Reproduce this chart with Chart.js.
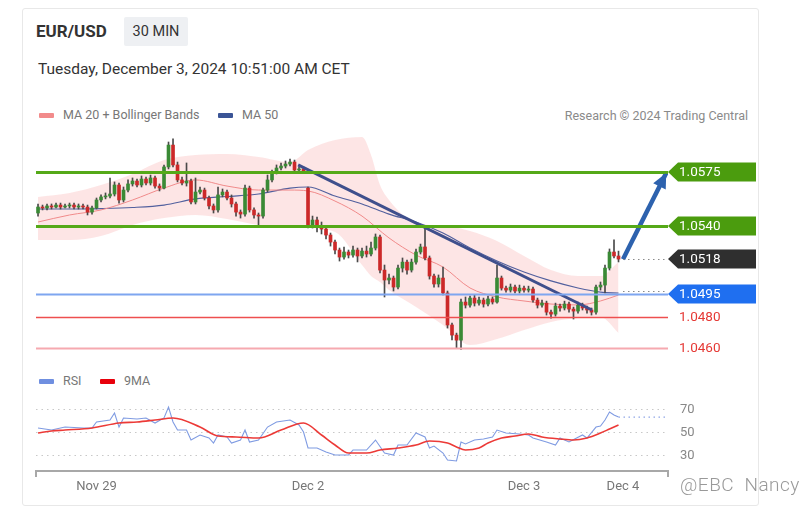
<!DOCTYPE html>
<html>
<head>
<meta charset="utf-8">
<script src="https://cdn.jsdelivr.net/npm/chart.js@4.4.1/dist/chart.umd.min.js"></script>
<style>
  body { margin: 0; width: 809px; height: 517px; position: relative; overflow: hidden; background: #fff; font-family: Roboto, "Liberation Sans", Arial, sans-serif; }
  .abs { position: absolute; white-space: nowrap; }
  .card { left: 22px; top: 8px; width: 735px; height: 496px; border: 1px solid #e8e8e8; border-radius: 3px; }
  .title { left: 36px; top: 21px; line-height: 20px; font-size: 17px; font-weight: bold; color: #333; }
  .badge { left: 124px; top: 17px; width: 64px; height: 29px; line-height: 29px; background: #eef0f3; color: #333; font-size: 14.5px; text-align: center; border-radius: 2px; }
  .date { left: 38px; top: 59px; line-height: 20px; font-size: 15.5px; color: #333; }
  .lg { line-height: 20px; font-size: 12.5px; color: #777; }
  .sw { width: 15px; height: 5px; border-radius: 1px; }
  .credit { right: 61px; top: 106px; line-height: 20px; font-size: 12.5px; color: #8a8a8a; }
  .mark { left: 680px; top: 473px; line-height: 24px; font-size: 19px; font-weight: 300; color: #999; letter-spacing: 0.5px; }
  canvas { position: absolute; left: 0; }
</style>
</head>
<body>
<div class="abs card"></div>
<div class="abs title">EUR/USD</div>
<div class="abs badge">30 MIN</div>
<div class="abs date">Tuesday, December 3, 2024 10:51:00 AM CET</div>

<div class="abs sw" style="left:39px;top:113px;background:#f28b8b"></div>
<div class="abs lg" style="left:63px;top:105px">MA 20 + Bollinger Bands</div>
<div class="abs sw" style="left:218px;top:113px;background:#3b5596"></div>
<div class="abs lg" style="left:242px;top:105px">MA 50</div>
<div class="abs credit">Research © 2024 Trading Central</div>

<div class="abs sw" style="left:39px;top:379px;background:#6f8fe0"></div>
<div class="abs lg" style="left:63px;top:371px">RSI</div>
<div class="abs sw" style="left:100px;top:379px;background:#e8000b"></div>
<div class="abs lg" style="left:124px;top:371px">9MA</div>

<canvas id="priceChart" width="809" height="230" style="top:130px"></canvas>
<canvas id="rsiChart" width="809" height="110" style="top:395px"></canvas>
<div class="abs mark">@EBC&nbsp;&nbsp;Nancy</div>

<script>
// 30 min candles, index 0 = first candle on the left
const opens = [
  1.05482, 1.05521, 1.05515, 1.05528, 1.05521, 1.05534, 1.05521, 1.05528, 1.05534, 1.05521,
  1.05528, 1.05521, 1.05488, 1.05515, 1.05567, 1.05587, 1.05593, 1.05606, 1.05665, 1.05567,
  1.05632, 1.05672, 1.05691, 1.05665, 1.05704, 1.05678, 1.05711, 1.05658, 1.05645, 1.05783,
  1.05926, 1.05796, 1.05698, 1.05678, 1.05691, 1.05554, 1.05619, 1.05632, 1.05580, 1.05528,
  1.05502, 1.05600, 1.05619, 1.05580, 1.05541, 1.05488, 1.05475, 1.05645, 1.05502, 1.05469,
  1.05462, 1.05632, 1.05698, 1.05750, 1.05776, 1.05789, 1.05802, 1.05815, 1.05763, 1.05770,
  1.05645, 1.05403, 1.05436, 1.05400, 1.05377, 1.05338, 1.05292, 1.05240, 1.05194, 1.05227,
  1.05207, 1.05240, 1.05201, 1.05233, 1.05214, 1.05253, 1.05325, 1.05109, 1.05044, 1.05057,
  1.04998, 1.05122, 1.05161, 1.05109, 1.05161, 1.05227, 1.05260, 1.05188, 1.05070, 1.05018,
  1.05057, 1.04959, 1.04750, 1.04684, 1.04651, 1.04900, 1.04880, 1.04926, 1.04893, 1.04913,
  1.04887, 1.04920, 1.04900, 1.05057, 1.04991, 1.04978, 1.04998, 1.04972, 1.04991, 1.04978,
  1.04985, 1.04913, 1.04880, 1.04893, 1.04834, 1.04821, 1.04874, 1.04861, 1.04887, 1.04854,
  1.04841, 1.04880, 1.04861, 1.04848, 1.04834, 1.04998, 1.05011, 1.05122, 1.05227, 1.05201
];
const closes = [
  1.05521, 1.05515, 1.05528, 1.05521, 1.05534, 1.05521, 1.05528, 1.05534, 1.05521, 1.05528,
  1.05521, 1.05488, 1.05515, 1.05567, 1.05587, 1.05593, 1.05606, 1.05665, 1.05567, 1.05632,
  1.05672, 1.05691, 1.05665, 1.05704, 1.05678, 1.05711, 1.05658, 1.05645, 1.05783, 1.05926,
  1.05796, 1.05698, 1.05678, 1.05691, 1.05554, 1.05619, 1.05632, 1.05580, 1.05528, 1.05502,
  1.05600, 1.05619, 1.05580, 1.05541, 1.05488, 1.05475, 1.05645, 1.05502, 1.05469, 1.05462,
  1.05632, 1.05698, 1.05750, 1.05776, 1.05789, 1.05802, 1.05815, 1.05763, 1.05770, 1.05757,
  1.05403, 1.05436, 1.05400, 1.05377, 1.05338, 1.05292, 1.05240, 1.05194, 1.05227, 1.05207,
  1.05240, 1.05201, 1.05233, 1.05214, 1.05253, 1.05325, 1.05109, 1.05044, 1.05057, 1.04998,
  1.05122, 1.05161, 1.05109, 1.05161, 1.05227, 1.05260, 1.05188, 1.05070, 1.05018, 1.05057,
  1.04959, 1.04750, 1.04684, 1.04651, 1.04900, 1.04880, 1.04926, 1.04893, 1.04913, 1.04887,
  1.04920, 1.04900, 1.05057, 1.04991, 1.04978, 1.04998, 1.04972, 1.04991, 1.04978, 1.04985,
  1.04913, 1.04880, 1.04893, 1.04834, 1.04821, 1.04874, 1.04861, 1.04887, 1.04854, 1.04841,
  1.04880, 1.04861, 1.04848, 1.04834, 1.04998, 1.05011, 1.05122, 1.05227, 1.05201, 1.05181
];
const highs = [
  1.05541, 1.05534, 1.05541, 1.05541, 1.05547, 1.05547, 1.05541, 1.05547, 1.05547, 1.05541,
  1.05541, 1.05534, 1.05528, 1.05580, 1.05600, 1.05613, 1.05711, 1.05685, 1.05678, 1.05652,
  1.05698, 1.05711, 1.05704, 1.05724, 1.05717, 1.05730, 1.05724, 1.05672, 1.05796, 1.05946,
  1.05966, 1.05815, 1.05717, 1.05809, 1.05704, 1.05711, 1.05652, 1.05645, 1.05593, 1.05541,
  1.05652, 1.05639, 1.05632, 1.05600, 1.05554, 1.05502, 1.05665, 1.05658, 1.05515, 1.05482,
  1.05645, 1.05730, 1.05763, 1.05796, 1.05809, 1.05822, 1.05835, 1.05828, 1.05783, 1.05783,
  1.05652, 1.05462, 1.05456, 1.05423, 1.05397, 1.05351, 1.05305, 1.05253, 1.05260, 1.05240,
  1.05266, 1.05253, 1.05253, 1.05266, 1.05292, 1.05345, 1.05338, 1.05142, 1.05083, 1.05070,
  1.05142, 1.05188, 1.05175, 1.05181, 1.05247, 1.05279, 1.05397, 1.05201, 1.05083, 1.05077,
  1.05129, 1.04972, 1.04763, 1.04697, 1.04920, 1.04933, 1.04939, 1.04946, 1.04933, 1.04926,
  1.04939, 1.04933, 1.05142, 1.05070, 1.05004, 1.05018, 1.05011, 1.05011, 1.05004, 1.05004,
  1.04998, 1.04926, 1.04913, 1.04906, 1.04848, 1.04893, 1.04887, 1.04906, 1.04900, 1.04867,
  1.04900, 1.04893, 1.04874, 1.04861, 1.05011, 1.05031, 1.05142, 1.05247, 1.05306, 1.05233
];
const lows = [
  1.05462, 1.05502, 1.05502, 1.05508, 1.05515, 1.05508, 1.05515, 1.05515, 1.05508, 1.05508,
  1.05508, 1.05469, 1.05475, 1.05508, 1.05554, 1.05574, 1.05580, 1.05593, 1.05547, 1.05554,
  1.05619, 1.05658, 1.05652, 1.05652, 1.05665, 1.05665, 1.05645, 1.05626, 1.05639, 1.05770,
  1.05783, 1.05685, 1.05665, 1.05658, 1.05541, 1.05541, 1.05606, 1.05567, 1.05508, 1.05482,
  1.05488, 1.05587, 1.05567, 1.05521, 1.05462, 1.05449, 1.05462, 1.05488, 1.05449, 1.05404,
  1.05449, 1.05619, 1.05685, 1.05737, 1.05763, 1.05776, 1.05789, 1.05750, 1.05750, 1.05744,
  1.05384, 1.05384, 1.05358, 1.05345, 1.05312, 1.05266, 1.05214, 1.05168, 1.05181, 1.05188,
  1.05194, 1.05162, 1.05188, 1.05194, 1.05201, 1.05240, 1.05090, 1.04933, 1.05018, 1.04972,
  1.04985, 1.05096, 1.05083, 1.05096, 1.05148, 1.05214, 1.05175, 1.05050, 1.04998, 1.04998,
  1.04946, 1.04730, 1.04652, 1.04600, 1.04590, 1.04861, 1.04867, 1.04874, 1.04880, 1.04867,
  1.04874, 1.04887, 1.04893, 1.04978, 1.04965, 1.04965, 1.04959, 1.04959, 1.04965, 1.04965,
  1.04900, 1.04861, 1.04867, 1.04815, 1.04795, 1.04808, 1.04841, 1.04848, 1.04834, 1.04789,
  1.04828, 1.04848, 1.04828, 1.04815, 1.04821, 1.04978, 1.04959, 1.05109, 1.05188, 1.05162
];

// moving averages (read at these candle indices)
const maIdx = [0, 7, 14, 21, 28, 35, 42, 49, 56, 60, 66, 72, 78, 84, 90, 96, 102, 108, 114, 120, 125, 129];
const ma20 = [1.05423, 1.05469, 1.05502, 1.05567, 1.05645, 1.05698, 1.05658, 1.05632, 1.05632, 1.05626, 1.05560,
  1.05462, 1.05319, 1.05207, 1.05129, 1.04992, 1.04933, 1.04907, 1.04887, 1.04881, 1.04907, 1.04946];
const ma50 = [1.05508, 1.05508, 1.05511, 1.05518, 1.05534, 1.05574, 1.05590, 1.05606, 1.05645, 1.05652, 1.05593,
  1.05541, 1.05475, 1.05423, 1.05351, 1.05253, 1.05168, 1.05096, 1.05038, 1.04992, 1.04965, 1.04959];

// bollinger bands
const bandIdx = [0, 7, 14, 21, 28, 35, 42, 49, 56, 60, 66, 72, 74, 76, 78, 84, 90, 96, 102, 108, 114, 120, 125, 129];
const bandUpper = [1.05587, 1.05613, 1.05665, 1.05737, 1.05828, 1.05861, 1.05868, 1.05848, 1.05815, 1.05894, 1.05959, 1.05979,
  1.05861, 1.05665, 1.05567, 1.05417, 1.05400, 1.05364, 1.05299, 1.05201, 1.05109, 1.05070, 1.05070, 1.05162];
const bandLower = [1.05306, 1.05306, 1.05332, 1.05404, 1.05449, 1.05469, 1.05443, 1.05404, 1.05384, 1.05384, 1.05358, 1.05142,
  1.05070, 1.05031, 1.04979, 1.04868, 1.04750, 1.04619, 1.04658, 1.04717, 1.04770, 1.04795, 1.04802, 1.04698];

// drawn trendline + target arrow
const trendIdx = [57.8, 123.1];
const trendVals = [1.05796, 1.04848];
const arrowIdx = [130, 139.6];
const arrowVals = [1.0518, 1.05743];

// key levels on the right
const levels = [1.0575, 1.0540, 1.0518, 1.0495, 1.0480, 1.0460];

// RSI panel
const rsiIdx = [0, 3, 6, 10, 12, 13, 16, 17, 18, 19, 22, 24, 26, 28, 29, 30, 31, 33, 34, 36, 38, 39, 40, 42, 43,
  45, 46, 47, 49, 51, 53, 56, 58, 59, 60, 62, 64, 66, 69, 70, 73, 75, 77, 79, 80, 82, 84, 86, 87, 88,
  90, 91, 93, 94, 95, 97, 99, 101, 102, 104, 107, 109, 110, 113, 115, 116, 118, 121, 122, 124, 125, 126, 127, 128, 129];
const rsiVals = [53.5, 51.7, 54.3, 53.5, 53.5, 58.7, 60.4, 66.5, 54.3, 62.2, 61.3, 62.2, 57.8, 62.2, 71.7, 58.7, 51.7, 51.7, 43, 47.4, 44.8, 40.4, 47.4, 45.7, 40.4,
  43, 51.7, 41.3, 43, 54.3, 58.7, 60.4, 56.1, 50, 36.1, 36.1, 32.6, 30, 30, 34.3, 34.3, 43, 31.7, 30, 38.7, 38.7, 49.1, 45.7, 36.1, 37.8,
  31.7, 25.7, 24.8, 41.3, 39.6, 43, 43.9, 45.7, 51.7, 49.1, 48.3, 47.4, 44.8, 41.3, 38.7, 44.8, 41.3, 47.4, 44.8, 54.3, 55.2, 60.4, 67.4, 64.8, 63];
const rsiMaIdx = [0, 3, 6, 12, 18, 22, 26, 30, 36, 40, 44, 49, 54, 59, 63, 66, 69, 73, 76, 80, 84, 87, 91, 93, 95,
  98, 100, 103, 106, 109, 112, 116, 119, 122, 125, 127, 129];
const rsiMaVals = [49.1, 50.9, 51.7, 53.5, 57.8, 58.7, 60.4, 62.2, 54.3, 46.5, 45.7, 44.8, 51.7, 57.8, 47.4, 38.7, 31.7, 31.7, 34.3, 36.1,
  38.7, 42.2, 40.4, 37, 34.3, 36.1, 40.4, 44.8, 46.5, 48.3, 45.7, 43.9, 43, 44.8, 49.1, 52.6, 56.1];
const rsiTicks = [70, 50, 30];

// x axis
const dayLabels = ["Nov 29", "Dec 2", "Dec 3", "Dec 4"];
const dayIdx = [13, 60, 108, 130];

const X_MIN = -0.45, X_MAX = 140;
const FONT = 'Roboto, "Liberation Sans", Arial, sans-serif';
const UP = "#3a8a35", DOWN = "#cc2929";

const levelStyle = [
  { line: "#55a918", w: 3, box: "#4b9c0e", text: "#fff" },
  { line: "#55a918", w: 3, box: "#4b9c0e", text: "#fff" },
  { line: null, dots: true, box: "#2f2f2f", text: "#fff" },
  { line: "#7ea6f0", w: 2, dots: true, box: "#1f6ff0", text: "#fff" },
  { line: "#ee4f4f", w: 1.4, box: null, text: "#e53935" },
  { line: "#f6a9b0", w: 2, box: null, text: "#e53935" },
];

const pts = (idx, vals) => idx.map((x, k) => ({ x: x, y: vals[k] }));
const candleIdx = closes.map((_, i) => i);

// levels, labels and arrow head
const priceDecor = {
  id: "priceDecor",
  afterDatasetsDraw(chart) {
    const { ctx, chartArea: a, scales } = chart;
    const x = scales.x, y = scales.y;
    const lastX = x.getPixelForValue(closes.length);
    ctx.save();
    levels.forEach((v, k) => {
      const s = levelStyle[k];
      const py = Math.round(y.getPixelForValue(v));
      if (s.line) {
        ctx.setLineDash([]);
        ctx.globalAlpha = 1;
        ctx.strokeStyle = s.line;
        ctx.lineWidth = s.w;
        ctx.beginPath();
        ctx.moveTo(a.left, py + 0.5);
        ctx.lineTo(a.right, py + 0.5);
        ctx.stroke();
      }
      if (s.dots) {
        ctx.strokeStyle = "#8a8a8a";
        ctx.lineWidth = 1.2;
        ctx.setLineDash([1.5, 3.5]);
        ctx.beginPath();
        const dy = s.line ? py - 2.5 : py + 0.5;
        ctx.moveTo(lastX, dy);
        ctx.lineTo(a.right, dy);
        ctx.stroke();
        ctx.setLineDash([]);
      }
      const L = a.right, R = 756;
      if (s.box) {
        ctx.fillStyle = s.box;
        ctx.beginPath();
        ctx.moveTo(L, py);
        ctx.lineTo(L + 10, py - 9.5);
        ctx.lineTo(R, py - 9.5);
        ctx.lineTo(R, py + 9.5);
        ctx.lineTo(L + 10, py + 9.5);
        ctx.closePath();
        ctx.fill();
      }
      ctx.fillStyle = s.text;
      ctx.font = "13.5px " + FONT;
      ctx.textBaseline = "middle";
      ctx.textAlign = "left";
      ctx.fillText(v.toFixed(4), L + 11, py + 1);
    });

    // arrow head on the target arrow
    const meta = chart.getDatasetMeta(chart.data.datasets.length - 1).data;
    const p0 = meta[0], p1 = meta[meta.length - 1];
    const ang = Math.atan2(p1.y - p0.y, p1.x - p0.x);
    const len = 15, half = 7;
    ctx.fillStyle = "#2d62ae";
    ctx.beginPath();
    ctx.moveTo(p1.x, p1.y);
    ctx.lineTo(p1.x - len * Math.cos(ang) + half * Math.sin(ang), p1.y - len * Math.sin(ang) - half * Math.cos(ang));
    ctx.lineTo(p1.x - len * Math.cos(ang) - half * Math.sin(ang), p1.y - len * Math.sin(ang) + half * Math.cos(ang));
    ctx.closePath();
    ctx.fill();
    ctx.restore();
  },
};

new Chart(document.getElementById("priceChart"), {
  type: "bar",
  data: {
    datasets: [
      {
        type: "line",
        data: pts(bandIdx, bandUpper),
        borderWidth: 0,
        pointRadius: 0,
        tension: 0.4,
        cubicInterpolationMode: "monotone",
        backgroundColor: "rgba(250, 175, 175, 0.32)",
        fill: "+1",
        order: 10,
      },
      {
        type: "line",
        data: pts(bandIdx, bandLower),
        borderWidth: 0,
        pointRadius: 0,
        tension: 0.4,
        cubicInterpolationMode: "monotone",
        fill: false,
        order: 10,
      },
      {
        type: "line",
        data: pts(maIdx, ma20),
        borderColor: "#f08a8a",
        borderWidth: 1,
        pointRadius: 0,
        cubicInterpolationMode: "monotone",
        fill: false,
        order: 8,
      },
      {
        type: "line",
        data: pts(maIdx, ma50),
        borderColor: "#52609e",
        borderWidth: 1.2,
        pointRadius: 0,
        cubicInterpolationMode: "monotone",
        fill: false,
        order: 8,
      },
      {
        data: candleIdx.map((i) => ({ x: i, y: [lows[i], highs[i]] })),
        backgroundColor: "#4a4a4a",
        barThickness: 1,
        grouped: false,
        minBarLength: 1,
        order: 6,
      },
      {
        data: candleIdx.map((i) => ({ x: i, y: [opens[i], closes[i]] })),
        backgroundColor: candleIdx.map((i) => (closes[i] >= opens[i] ? UP : DOWN)),
        barThickness: 3,
        grouped: false,
        minBarLength: 1,
        borderSkipped: false,
        order: 5,
      },
      {
        type: "line",
        data: pts(trendIdx, trendVals),
        borderColor: "#3f4f8c",
        borderWidth: 3,
        pointRadius: 0,
        fill: false,
        order: 2,
      },
      {
        type: "line",
        data: pts(arrowIdx, arrowVals),
        borderColor: "#2d62ae",
        borderWidth: 4.5,
        pointRadius: 0,
        fill: false,
        order: 1,
      },
    ],
  },
  options: {
    responsive: false,
    animation: false,
    events: [],
    layout: { padding: { left: 36, right: 141, top: 5, bottom: 5 } },
    plugins: { legend: { display: false }, tooltip: { enabled: false } },
    scales: {
      x: { type: "linear", min: X_MIN, max: X_MAX, offset: false, display: false },
      y: { min: 1.045539, max: 1.059918, display: false },
    },
  },
  plugins: [priceDecor],
});

// rsi grid, labels and date axis
const rsiDecor = {
  id: "rsiDecor",
  beforeDatasetsDraw(chart) {
    const { ctx, chartArea: a, scales } = chart;
    ctx.save();
    ctx.strokeStyle = "#c8c8c8";
    ctx.lineWidth = 1.2;
    ctx.setLineDash([1.5, 4]);
    ctx.fillStyle = "#888";
    ctx.font = "13px " + FONT;
    ctx.textBaseline = "middle";
    rsiTicks.forEach((t) => {
      const py = Math.round(scales.y.getPixelForValue(t)) + 0.5;
      ctx.beginPath();
      ctx.moveTo(a.left, py);
      ctx.lineTo(a.right, py);
      ctx.stroke();
      ctx.fillText(String(t), a.right + 12, py);
    });
    ctx.setLineDash([]);
    const ay = a.bottom + 5;
    ctx.strokeStyle = "#a8a8a8";
    ctx.lineWidth = 2;
    ctx.beginPath();
    ctx.moveTo(a.left, ay + 6);
    ctx.lineTo(a.left, ay);
    ctx.lineTo(a.right, ay);
    ctx.lineTo(a.right, ay + 6);
    ctx.stroke();
    ctx.fillStyle = "#777";
    ctx.textAlign = "center";
    dayLabels.forEach((d, k) => {
      ctx.fillText(d, scales.x.getPixelForValue(dayIdx[k]), ay + 16);
    });
    ctx.restore();
  },
};

const lastRsi = rsiVals[rsiVals.length - 1];
new Chart(document.getElementById("rsiChart"), {
  type: "line",
  data: {
    datasets: [
      {
        data: pts(rsiMaIdx, rsiMaVals),
        borderColor: "#ec3a37",
        borderWidth: 1.6,
        pointRadius: 0,
        cubicInterpolationMode: "monotone",
        fill: false,
      },
      {
        data: pts(rsiIdx, rsiVals),
        borderColor: "#7f9be2",
        borderWidth: 1.1,
        pointRadius: 0,
        tension: 0,
        fill: false,
      },
      {
        data: [{ x: rsiIdx[rsiIdx.length - 1], y: lastRsi }, { x: X_MAX, y: lastRsi }],
        borderColor: "#8fa6e6",
        borderWidth: 1.2,
        borderDash: [1.5, 3.5],
        pointRadius: 0,
        fill: false,
      },
    ],
  },
  options: {
    responsive: false,
    animation: false,
    events: [],
    layout: { padding: { left: 36, right: 141, top: 3, bottom: 39 } },
    plugins: { legend: { display: false }, tooltip: { enabled: false } },
    scales: {
      x: { type: "linear", min: X_MIN, max: X_MAX, display: false },
      y: { min: 20.435, max: 79.565, display: false },
    },
  },
  plugins: [rsiDecor],
});
</script>
</body>
</html>
